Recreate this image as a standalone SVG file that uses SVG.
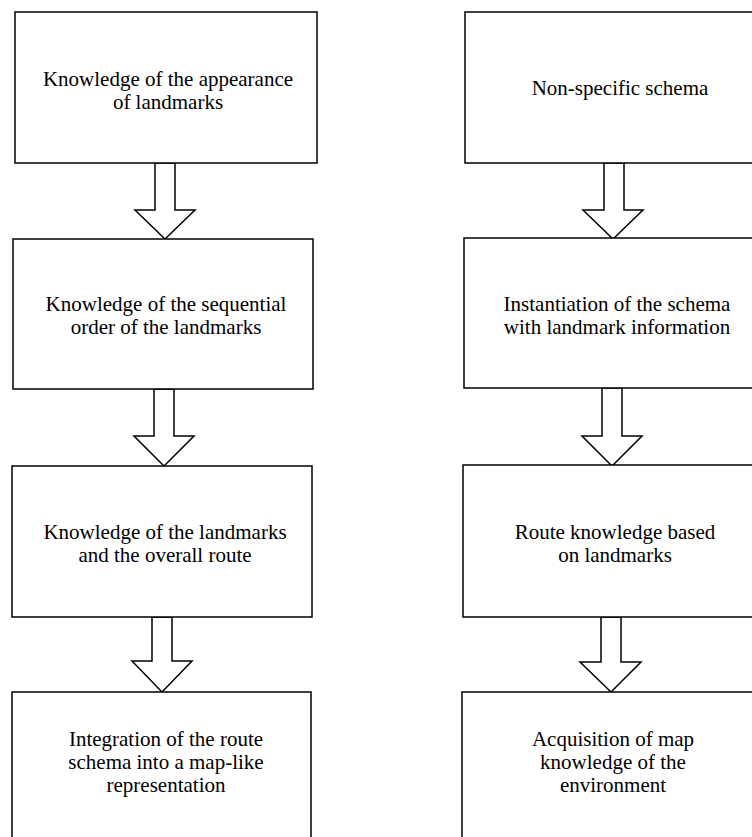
<svg xmlns="http://www.w3.org/2000/svg" width="752" height="837" viewBox="0 0 752 837">
<style>
.box{fill:#fff;stroke:#000;stroke-width:1.5}
.arr{fill:#fff;stroke:#000;stroke-width:1.5;stroke-linejoin:miter}
text{font-family:"Liberation Serif","Times New Roman",serif;font-size:21px;fill:#000;text-anchor:middle}
</style>
<rect width="752" height="837" fill="#fff"/>
<g id="connectors">
<polygon class="arr" points="155,163 175,163 175,210 195,210 165,239 135,210 155,210"/>
<polygon class="arr" points="154,389 174,389 174,436 194,436 164,466 134,436 154,436"/>
<polygon class="arr" points="152,617 172,617 172,661 192,661 162,692 132,661 152,661"/>
<polygon class="arr" points="604,163 624,163 624,210 643,210 613,239 583,210 604,210"/>
<polygon class="arr" points="602,388 622,388 622,436 642,436 612,466 582,436 602,436"/>
<polygon class="arr" points="601,617 621,617 621,662 641,662 611,692 580,662 601,662"/>
</g>
<g id="L1"><rect class="box" x="15" y="12" width="302" height="151"/>
<text x="168" y="86">Knowledge of the appearance</text><text x="168" y="109">of landmarks</text></g>
<g id="L2"><rect class="box" x="13" y="239" width="300" height="150"/>
<text x="166" y="311">Knowledge of the sequential</text><text x="166" y="334">order of the landmarks</text></g>
<g id="L3"><rect class="box" x="12" y="466" width="300" height="151"/>
<text x="165" y="539">Knowledge of the landmarks</text><text x="165" y="562">and the overall route</text></g>
<g id="L4"><rect class="box" x="12" y="692" width="299" height="160"/>
<text x="166" y="746">Integration of the route</text><text x="166" y="769">schema into a map-like</text><text x="166" y="792">representation</text></g>
<g id="R1"><rect class="box" x="465" y="12" width="310" height="151"/>
<text x="620" y="95">Non-specific schema</text></g>
<g id="R2"><rect class="box" x="464" y="238" width="310" height="150"/>
<text x="617" y="311">Instantiation of the schema</text><text x="617" y="334">with landmark information</text></g>
<g id="R3"><rect class="box" x="463" y="465" width="310" height="152"/>
<text x="615" y="539">Route knowledge based</text><text x="615" y="562">on landmarks</text></g>
<g id="R4"><rect class="box" x="462" y="692" width="310" height="160"/>
<text x="613" y="746">Acquisition of map</text><text x="613" y="769">knowledge of the</text><text x="613" y="792">environment</text></g>
</svg>
